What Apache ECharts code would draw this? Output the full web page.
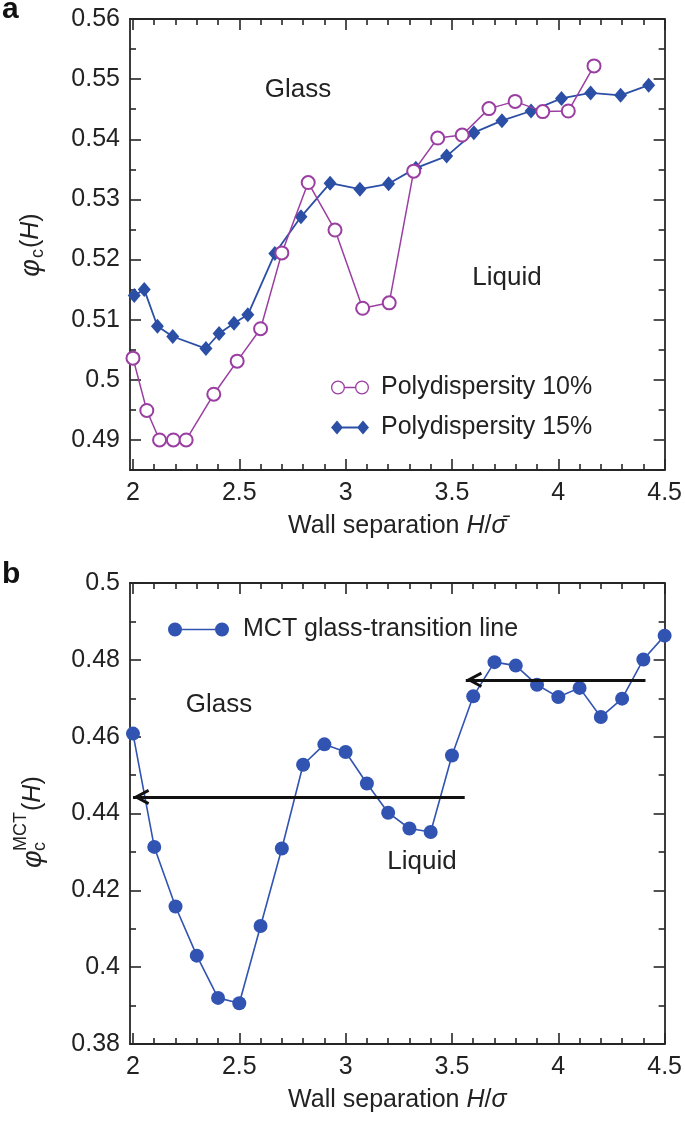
<!DOCTYPE html>
<html>
<head>
<meta charset="utf-8">
<script src="https://cdn.jsdelivr.net/npm/echarts@6/dist/echarts.min.js"></script>
<style>html,body{margin:0;padding:0;background:#fff;}#c{width:685px;height:1131px;}</style>
</head>
<body>
<div id="c"></div>
<script>
// ---- Data (panel a) ----
const h10   = [2.00, 2.065, 2.125, 2.19, 2.25, 2.38, 2.49, 2.60, 2.70, 2.824, 2.95, 3.08, 3.205, 3.32, 3.433, 3.548, 3.674, 3.797, 3.927, 4.047, 4.168];
const phi10 = [0.5036, 0.4949, 0.4900, 0.4900, 0.4900, 0.4976, 0.5031, 0.5085, 0.5211, 0.5328, 0.5249, 0.5119, 0.5128, 0.5347, 0.5402, 0.5407, 0.5451, 0.5463, 0.5446, 0.5447, 0.5522];
const h15   = [2.006, 2.053, 2.115, 2.187, 2.343, 2.405, 2.475, 2.54, 2.667, 2.79, 2.927, 3.067, 3.202, 3.33, 3.475, 3.603, 3.735, 3.872, 4.015, 4.152, 4.293, 4.425];
const phi15 = [0.5140, 0.5150, 0.5089, 0.5072, 0.5052, 0.5077, 0.5094, 0.5108, 0.5210, 0.5271, 0.5327, 0.5317, 0.5326, 0.5352, 0.5372, 0.5411, 0.5431, 0.5447, 0.5468, 0.5477, 0.5473, 0.5490];
// ---- Data (panel b) ----
const hMct   = [2.0, 2.1, 2.2, 2.3, 2.4, 2.5, 2.6, 2.7, 2.8, 2.9, 3.0, 3.1, 3.2, 3.3, 3.4, 3.5, 3.6, 3.7, 3.8, 3.9, 4.0, 4.1, 4.2, 4.3, 4.4, 4.5];
const phiMct = [0.4608, 0.4313, 0.4158, 0.4030, 0.3920, 0.3906, 0.4107, 0.4309, 0.4527, 0.4580, 0.4560, 0.4478, 0.4402, 0.4361, 0.4352, 0.4551, 0.4705, 0.4794, 0.4785, 0.4735, 0.4703, 0.4727, 0.4651, 0.4699, 0.4801, 0.4863];
const arrowLow  = [[3.56, 0.4443], [2.0, 0.4443]];
const arrowHigh = [[4.41, 0.4748], [3.565, 0.4748]];
// ---- Ticks ----
const xMajor  = [2, 2.5, 3, 3.5, 4, 4.5];
const xMinor  = [2.1, 2.2, 2.3, 2.4, 2.6, 2.7, 2.8, 2.9, 3.1, 3.2, 3.3, 3.4, 3.6, 3.7, 3.8, 3.9, 4.1, 4.2, 4.3, 4.4];
const yaMajor = [0.49, 0.5, 0.51, 0.52, 0.53, 0.54, 0.55, 0.56];
const yaMinor = [0.485, 0.495, 0.505, 0.515, 0.525, 0.535, 0.545, 0.555];
const ybMajor = [0.38, 0.4, 0.42, 0.44, 0.46, 0.48, 0.5];
const ybMinor = [0.39, 0.41, 0.43, 0.45, 0.47, 0.49];

const FONT = '"Liberation Sans", Arial, Helvetica, sans-serif';
const INK = '#222';
const PURPLE = '#9a3ea2';
const BLUE = '#2c4fa6';
const BLUE2 = '#3153b2';

function axes(dim, gridIndex, min, max, majors, minors, name) {
  const pos = dim === 'x' ? ['bottom', 'top'] : ['left', 'right'];
  const out = [];
  pos.forEach((p, pi) => {
    [0, 1].forEach(minor => {
      const a = {
        type: 'value', gridIndex, min, max, position: p,
        splitLine: {show: false},
        axisLine: {show: !minor, onZero: false, lineStyle: {color: '#262626', width: 1.8}},
        axisTick: {show: true, inside: true, length: minor ? 6 : 11,
          customValues: minor ? minors : majors, lineStyle: {color: '#262626', width: 1.6}},
        axisLabel: {show: false}
      };
      if (pi === 0 && !minor) {
        a.axisLabel = {show: true, customValues: majors, margin: dim === 'x' ? 11 : 10,
          fontSize: 25, color: INK, fontFamily: FONT};
        if (name) {
          a.name = name; a.nameLocation = 'middle'; a.nameGap = 44;
          a.nameTextStyle = {fontSize: 25, color: INK, fontFamily: FONT, verticalAlign: 'top',
            rich: {n: {fontSize: 25, color: INK, fontFamily: FONT},
                   i: {fontSize: 25, color: INK, fontFamily: FONT, fontStyle: 'italic'}}};
        }
      }
      out.push(a);
    });
  });
  return out;
}

const xMin = 1.986, xMax = 4.5;
const xAxis = [].concat(
  axes('x', 0, xMin, xMax, xMajor, xMinor, '{n|Wall separation }{i|H}{n|/}{i|σ\u0304}'),
  axes('x', 1, xMin, xMax, xMajor, xMinor, '{n|Wall separation }{i|H}{n|/}{i|σ}')
);
const yAxis = [].concat(
  axes('y', 0, 0.485, 0.56, yaMajor, yaMinor, null),
  axes('y', 1, 0.38, 0.5, ybMajor, ybMinor, null)
);

const zip = (a, b) => a.map((v, i) => [v, b[i]]);

const ringIcon = 'path://M0,7 A7,7 0 1,1 14,7 A7,7 0 1,1 0,7 Z M1.3,7 A5.7,5.7 0 1,0 12.7,7 A5.7,5.7 0 1,0 1.3,7 Z M14,6.3 L24,6.3 L24,7.7 L14,7.7 Z M24,7 A7,7 0 1,1 38,7 A7,7 0 1,1 24,7 Z M25.3,7 A5.7,5.7 0 1,0 36.7,7 A5.7,5.7 0 1,0 25.3,7 Z';
const diamondIcon = 'path://M6,0 L12,7 L6,14 L0,7 Z M11,6.1 L27,6.1 L27,7.9 L11,7.9 Z M32,0 L38,7 L32,14 L26,7 Z';
const dotIcon = 'path://M0,7 A7,7 0 1,1 14,7 A7,7 0 1,1 0,7 Z M13,6.2 L48,6.2 L48,7.8 L13,7.8 Z M47,7 A7,7 0 1,1 61,7 A7,7 0 1,1 47,7 Z';
const chevron = 'path://M8,0 L8.01,0 L8,0.01 Z M8,20 L15.5,35 L13,36.25 L8,26.25 L3,36.25 L0.5,35 Z M8,40 L8.01,40 L8,39.99 Z';

const txt = (t, x, y, size, extra) => Object.assign({
  type: 'text', x, y, silent: true,
  style: {text: t, fill: INK, font: size + 'px ' + FONT, align: 'center', verticalAlign: 'middle',
          textAlign: 'center', textVerticalAlign: 'middle'}
}, extra || {});

const option = {
  animation: false,
  backgroundColor: '#fff',
  grid: [
    {left: 130, right: 18, top: 19, height: 451},
    {left: 130, right: 18, top: 583, height: 461}
  ],
  xAxis, yAxis,
  legend: [
    {orient: 'vertical', left: 326, top: 370, itemWidth: 38, itemHeight: 14, itemGap: 15, selectedMode: false,
     textStyle: {fontSize: 25, color: INK, fontFamily: FONT, padding: [0, 0, 0, 7]},
     data: [
       {name: 'Polydispersity 10%', icon: ringIcon, itemStyle: {color: PURPLE, borderWidth: 0}},
       {name: 'Polydispersity 15%', icon: diamondIcon, itemStyle: {color: BLUE, borderWidth: 0}}
     ]},
    {orient: 'vertical', left: 163, top: 612, itemWidth: 61, itemHeight: 14, selectedMode: false,
     textStyle: {fontSize: 25, color: INK, fontFamily: FONT, padding: [0, 0, 0, 9]},
     data: [{name: 'MCT glass-transition line', icon: dotIcon, itemStyle: {color: BLUE2, borderWidth: 0}}]}
  ],
  series: [
    {name: 'Polydispersity 15%', type: 'line', xAxisIndex: 0, yAxisIndex: 0, z: 2,
     data: zip(h15, phi15), symbol: 'diamond', symbolSize: [13, 15],
     itemStyle: {color: BLUE}, lineStyle: {color: BLUE, width: 1.8}},
    {name: 'Polydispersity 10%', type: 'line', xAxisIndex: 0, yAxisIndex: 0, z: 3,
     data: zip(h10, phi10), symbol: 'emptyCircle', symbolSize: 13,
     itemStyle: {color: PURPLE, borderColor: PURPLE, borderWidth: 1.5}, lineStyle: {color: PURPLE, width: 1.5}},
    {name: 'MCT glass-transition line', type: 'line', xAxisIndex: 4, yAxisIndex: 4,
     data: zip(hMct, phiMct), symbol: 'circle', symbolSize: 14,
     itemStyle: {color: BLUE2}, lineStyle: {color: BLUE2, width: 1.6},
     markLine: {silent: true, animation: false, symbol: ['none', chevron], symbolSize: [16, 40],
       label: {show: false}, lineStyle: {color: '#111', width: 3, type: 'solid'},
       emphasis: {disabled: true},
       data: [
         [{coord: arrowLow[0]}, {coord: arrowLow[1]}],
         [{coord: arrowHigh[0]}, {coord: arrowHigh[1]}]
       ]}}
  ],
  graphic: [
    txt('a', 2, 10, 28, {style: {text: 'a', fill: '#111', font: 'bold 30px ' + FONT, align: 'left', verticalAlign: 'middle', textAlign: 'left', textVerticalAlign: 'middle'}}),
    txt('b', 2, 575, 28, {style: {text: 'b', fill: '#111', font: 'bold 30px ' + FONT, align: 'left', verticalAlign: 'middle', textAlign: 'left', textVerticalAlign: 'middle'}}),
    txt('Glass', 298, 90, 26),
    txt('Liquid', 507, 278, 26),
    txt('Glass', 219, 705, 26),
    txt('Liquid', 422, 862, 26),
    {type: 'text', x: 31, y: 245, rotation: Math.PI / 2, silent: true,
     style: {text: '{p|φ}{s|c}{n|(}{i|H}{n|)}', align: 'center', verticalAlign: 'middle', textAlign: 'center', textVerticalAlign: 'middle',
       rich: {
         p: {fontSize: 27, fontStyle: 'italic', fontFamily: FONT, fill: INK, color: INK},
         s: {fontSize: 18, fontFamily: FONT, fill: INK, color: INK, padding: [14, 1, 0, 1]},
         n: {fontSize: 25, fontFamily: FONT, fill: INK, color: INK},
         i: {fontSize: 25, fontStyle: 'italic', fontFamily: FONT, fill: INK, color: INK}
       }}},
    {type: 'group', x: 33, y: 868, rotation: Math.PI / 2, silent: true, children: [
      {type: 'text', x: 0, y: 0, style: {text: 'φ', fill: INK, font: 'italic 27px ' + FONT, align: 'left', verticalAlign: 'middle', textAlign: 'left', textVerticalAlign: 'middle'}},
      {type: 'text', x: 17, y: 7, style: {text: 'c', fill: INK, font: '18px ' + FONT, align: 'left', verticalAlign: 'middle', textAlign: 'left', textVerticalAlign: 'middle'}},
      {type: 'text', x: 17, y: -12, style: {text: 'MCT', fill: INK, font: '18px ' + FONT, align: 'left', verticalAlign: 'middle', textAlign: 'left', textVerticalAlign: 'middle'}},
      {type: 'text', x: 57, y: 0, style: {text: '{n|(}{i|H}{n|)}', align: 'left', verticalAlign: 'middle', textAlign: 'left', textVerticalAlign: 'middle',
        rich: {n: {fontSize: 25, fontFamily: FONT, fill: INK, color: INK},
               i: {fontSize: 25, fontStyle: 'italic', fontFamily: FONT, fill: INK, color: INK}}}}
    ]}
  ]
};

const chart = echarts.init(document.getElementById('c'), null, {renderer: 'canvas'});
chart.setOption(option);
</script>
</body>
</html>
